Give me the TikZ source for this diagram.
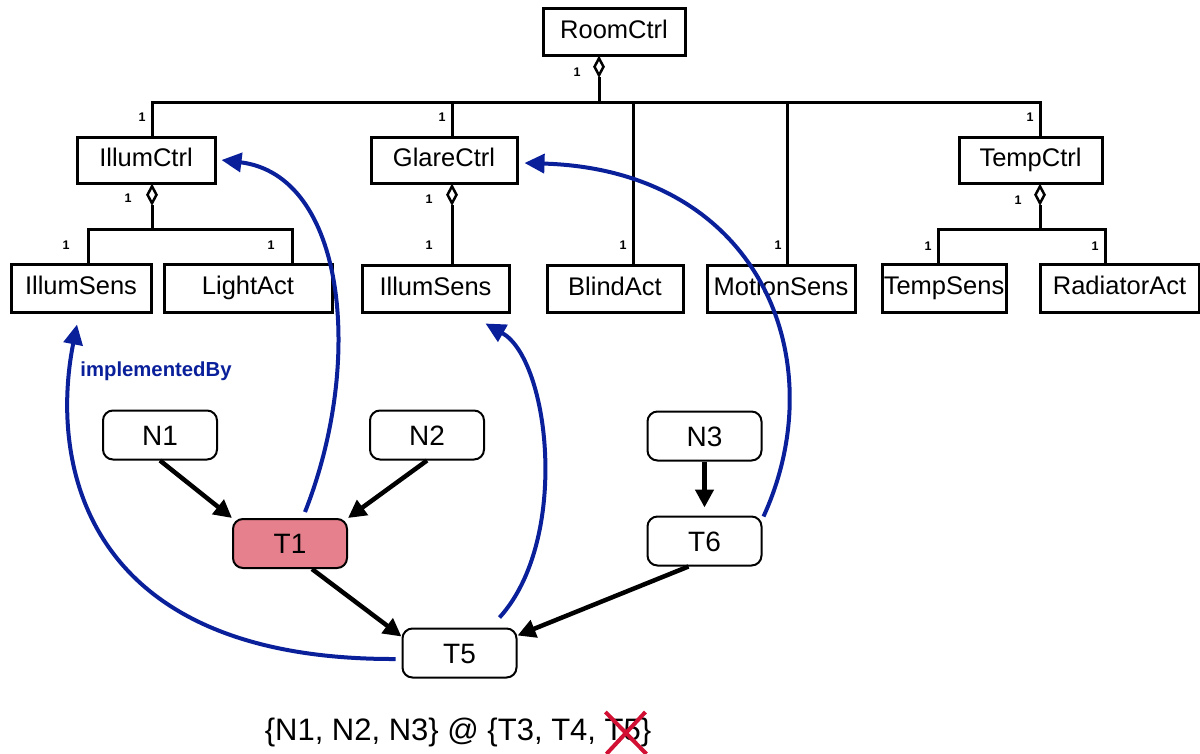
\documentclass[tikz,border=0pt]{standalone}
\usepackage{fontspec}
\setmainfont{Liberation Sans}
\usetikzlibrary{arrows.meta,shapes.geometric,calc}
\definecolor{implblue}{RGB}{10,32,155}
\definecolor{taskpink}{RGB}{229,128,140}
\definecolor{crossred}{RGB}{210,16,52}
\begin{document}
\begin{tikzpicture}[x=1pt,y=-1pt,
  cls/.style={draw,line width=3pt,fill=white,inner sep=0pt,minimum height=47pt,
    font=\fontsize{25.5}{30}\selectfont,text height=18.3pt,text depth=5pt},
  task/.style={draw,line width=2pt,rounded corners=10pt,fill=white,inner sep=0pt,
    minimum width=114pt,minimum height=49pt,
    font=\fontsize{28}{32}\selectfont,text height=20pt,text depth=0pt},
  agg/.style={draw,diamond,fill=white,line width=2.5pt,inner sep=0pt,
    minimum width=10pt,minimum height=18pt,anchor=north},
  tree/.style={line width=3pt},
  mult/.style={font=\fontsize{12.5}{14}\bfseries\selectfont,inner sep=0pt},
  flow/.style={line width=4.5pt,-{Triangle[length=18pt,width=18pt]}},
  impl/.style={draw=implblue,line width=4pt,-{Triangle[length=20pt,width=19pt]},implblue},
  lbl/.style={font=\fontsize{20.3}{23}\bfseries\selectfont,text=implblue,inner sep=0pt},
  cross/.style={draw=crossred,line width=4pt}
]
\useasboundingbox (0,0) rectangle (1200,753);

% component classes
\node[cls,minimum width=142pt] (RoomCtrl) at (614,31.5) {RoomCtrl};
\node[cls,minimum width=138pt,minimum height=46pt] (IllumCtrl) at (146,160) {IllumCtrl};
\node[cls,minimum width=146pt,minimum height=46pt] (GlareCtrl) at (444,160) {GlareCtrl};
\node[cls,minimum width=143pt,minimum height=46pt] (TempCtrl) at (1030.5,160) {TempCtrl};
\node[cls,minimum width=140pt,minimum height=48pt] (IllumSens) at (81,288) {IllumSens};
\node[cls,minimum width=168pt,minimum height=48pt] (LightAct) at (248,288) {LightAct};
\node[cls,minimum width=147pt] (IllumSensB) at (435.5,288.5) {IllumSens};
\node[cls,minimum width=136pt] (BlindAct) at (615,288.5) {BlindAct};
\node[cls,minimum width=148pt] (MotionSens) at (781,288.5) {MotionSens};
\node[cls,minimum width=124pt,minimum height=48pt] (TempSens) at (944,288) {TempSens};
\node[cls,minimum width=159pt,minimum height=48pt] (RadiatorAct) at (1119.5,288) {RadiatorAct};

% aggregation from RoomCtrl
\node[agg] (dRoom) at ($(RoomCtrl.south)+(-15,0)$) {};
\coordinate (busTop) at ($(dRoom.south)+(0,25)$);
\coordinate (pIllum) at ($(IllumCtrl.north)+(6,0)$);
\coordinate (pGlare) at ($(GlareCtrl.north)+(8,0)$);
\coordinate (pTemp) at ($(TempCtrl.north)+(9.5,0)$);
\coordinate (pBlind) at ($(BlindAct.north)+(18,0)$);
\coordinate (pMotion) at ($(MotionSens.north)+(6,0)$);
\draw[tree] (dRoom.south) -- (busTop);
\draw[tree] (pIllum) |- (busTop) -| (pTemp);
\draw[tree] (pGlare) -- (pGlare |- busTop);
\draw[tree] (pBlind) -- (pBlind |- busTop);
\draw[tree] (pMotion) -- (pMotion |- busTop);

% aggregation from IllumCtrl
\node[agg] (dIllum) at ($(IllumCtrl.south)+(6,0)$) {};
\coordinate (busIllum) at ($(dIllum.south)+(0,24)$);
\coordinate (pIllumSens) at ($(IllumSens.north)+(7,0)$);
\coordinate (pLight) at ($(LightAct.north)+(44,0)$);
\draw[tree] (dIllum.south) -- (busIllum);
\draw[tree] (pIllumSens) |- (busIllum) -| (pLight);

% aggregation from GlareCtrl
\node[agg] (dGlare) at ($(GlareCtrl.south)+(8,0)$) {};
\draw[tree] (dGlare.south) -- ($(IllumSensB.north)+(16.5,0)$);

% aggregation from TempCtrl
\node[agg] (dTemp) at ($(TempCtrl.south)+(9.5,0)$) {};
\coordinate (busTemp) at ($(dTemp.south)+(0,24)$);
\coordinate (pTempSens) at ($(TempSens.north)+(-6,0)$);
\coordinate (pRad) at ($(RadiatorAct.north)+(-14.5,0)$);
\draw[tree] (dTemp.south) -- (busTemp);
\draw[tree] (pTempSens) |- (busTemp) -| (pRad);

% multiplicities
\node[mult] (m0) at (577,72) {1};
\node[mult] (m1) at (142,117) {1};
\node[mult] (m2) at (442,117) {1};
\node[mult] (m3) at (1030,117) {1};
\node[mult] (m4) at (128,198) {1};
\node[mult] (m5) at (429,199) {1};
\node[mult] (m6) at (1018,200) {1};
\node[mult] (m7) at (66,245) {1};
\node[mult] (m8) at (271,245) {1};
\node[mult] (m9) at (429,245) {1};
\node[mult] (m10) at (623,245) {1};
\node[mult] (m11) at (778,245) {1};
\node[mult] (m12) at (928,246) {1};
\node[mult] (m13) at (1095,246) {1};

% task graph
\node[task] (N1) at (160,435) {N1};
\node[task] (N2) at (427,435) {N2};
\node[task] (N3) at (704.5,436) {N3};
\node[task,fill=taskpink] (T1) at (290,543.5) {T1};
\node[task] (T6) at (704.5,541) {T6};
\node[task] (T5) at (459.5,653) {T5};

\draw[flow] (N1.south) -- (T1.north west);
\draw[flow] (N2.south) -- (T1.north east);
\draw[flow,shorten >=8pt] (N3.south) -- (T6.north);
\draw[flow] ($(T1.south)+(22,0)$) -- ($(T5.north west)+(0,9)$);
\draw[flow] ($(T6.south)+(-16,0)$) -- ($(T5.north east)+(0,8)$);

% implementedBy relations
\draw[impl] ($(T1.north)+(15,-6)$) .. controls (365,360) and (345,175) .. ($(IllumCtrl.east)+(5,0)$);
\draw[impl] ($(T5.north)+(40,-10)$) .. controls (570,540) and (550,360) .. ($(IllumSensB.south)+(50,10)$);
\draw[impl] ($(T6.north east)+(1,1)$) .. controls (835,360) and (760,170) .. ($(GlareCtrl.east)+(6,3)$);
\draw[impl] ($(T5.west)+(-6,6)$) .. controls (80,660) and (50,460) .. ($(IllumSens.south)+(-4,11)$);
\node[lbl] (implLbl) at (156,371) {implementedBy};

% mapping set
\node[anchor=base,inner sep=0pt,font=\fontsize{31}{35}\selectfont] (sets) at (458,740)
  {\{N1, N2, N3\} @ \{T3, T4, T5\}};
\draw[cross] ($(sets.east)+(-46,-20)$) -- ($(sets.east)+(-5,22)$);
\draw[cross] ($(sets.east)+(-6,-20)$) -- ($(sets.east)+(-45,22)$);
\end{tikzpicture}
\end{document}
